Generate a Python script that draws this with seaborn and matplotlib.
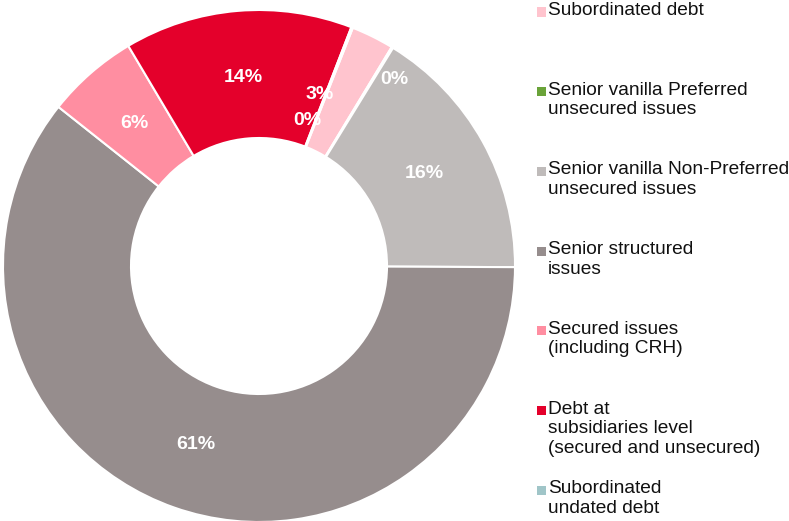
import numpy as np
import matplotlib
matplotlib.use("Agg")
import matplotlib.pyplot as plt
import seaborn as sns
from matplotlib.patches import Rectangle

# =========================
# Данные (в %)
# =========================
categories = [
    "Subordinated debt",
    "Senior vanilla Preferred\nunsecured issues",
    "Senior vanilla Non-Preferred\nunsecured issues",
    "Senior structured\nissues",
    "Secured issues\n(including CRH)",
    "Debt at\nsubsidiaries level\n(secured and unsecured)",
    "Subordinated\nundated debt",
]
shares = [2.7, 0.1, 16.3, 60.6, 5.8, 14.4, 0.1]
colors = ["#FFC4CE", "#6AA339", "#BFBBBA", "#968D8D", "#FF8EA1", "#E4002B", "#A0C5C8"]

# сдвиги подписей для маленьких секторов: (радиус, поворот в градусах)
label_tweaks = {0: (0.71, 6.8), 1: (0.90, -4.6), 6: (0.60, 3.0)}

sns.set_theme(style="white")
plt.rcParams["font.family"] = ["Liberation Sans", "DejaVu Sans"]

W, H = 789, 521
fig = plt.figure(figsize=(W / 100, H / 100), dpi=100)
ax = fig.add_axes([3 / W, -1 / H, 512 / W, 512 / H])

palette = sns.color_palette(colors)
wedges, _ = ax.pie(
    shares,
    colors=palette,
    startangle=68.5,
    counterclock=False,
    radius=1.0,
    wedgeprops=dict(width=0.5, edgecolor="white", linewidth=1.5),
)

# =========================
# Подписи процентов
# =========================
for i, (w, v) in enumerate(zip(wedges, shares)):
    mid = (w.theta1 + w.theta2) / 2
    r, shift = label_tweaks.get(i, (0.74, 0.0))
    ang = np.deg2rad(mid + shift)
    ax.text(r * np.cos(ang), r * np.sin(ang), f"{v:.0f}%",
            ha="center", va="center", color="white",
            fontsize=14, fontweight="bold")

ax.set_xlim(-1, 1)
ax.set_ylim(-1, 1)
ax.set_aspect("equal")
ax.axis("off")

# =========================
# Легенда справа (маркер у первой строки)
# =========================
legend_top = 12
legend_step = 79.7
for i, (lab, c) in enumerate(zip(categories, palette)):
    yc = legend_top + i * legend_step
    fig.patches.append(Rectangle((537 / W, 1 - (yc + 4.5) / H), 9 / W, 9 / H,
                                 transform=fig.transFigure, facecolor=c,
                                 edgecolor="none"))
    fig.text(548 / W, 1 - (yc - 10) / H, lab, ha="left", va="top",
             fontsize=13.8, color="#111111", linespacing=1.2)

fig.savefig("out.png", dpi=100, facecolor="white")
plt.close(fig)
